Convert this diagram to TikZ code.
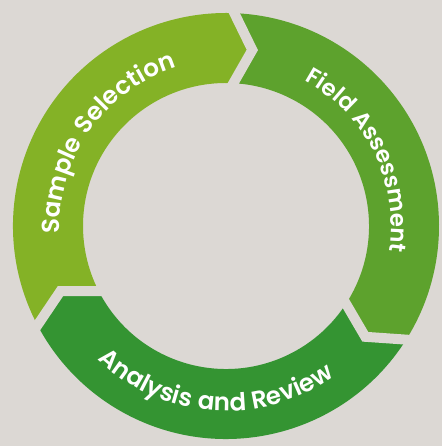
\documentclass[tikz,border=0pt]{standalone}
\usepackage{fontspec}
\usetikzlibrary{decorations.text}
\newfontfamily\ringfont{Poppins SemiBold}[LetterSpace=4]
\definecolor{bggrey}{RGB}{220,216,212}
\definecolor{samplegreen}{RGB}{132,178,38}
\definecolor{fieldgreen}{RGB}{93,162,45}
\definecolor{reviewgreen}{RGB}{52,148,50}

\begin{document}
\begin{tikzpicture}[x=0.02cm,y=0.02cm,
  gapline/.style={draw=bggrey,line width=0.2cm,line join=miter},
  ringtext/.style 2 args={decorate,decoration={text along path,text align=center,text color=white,
    text={|\ringfont\fontsize{#1}{#1}\selectfont|#2}}}]
\useasboundingbox (0,0) rectangle (442,446);
\fill[bggrey] (0,0) rectangle (442,446);
\begin{scope}[shift={(226,220)}]
\fill[samplegreen] (209:213) arc[start angle=209,end angle=89,radius=213] -- (81.5:178) -- (89:143) arc[start angle=89,end angle=209,radius=143] -- (201.5:178) -- cycle;
\fill[fieldgreen] (89:213) arc[start angle=89,end angle=-31,radius=213] -- (-38.5:178) -- (-31:143) arc[start angle=-31,end angle=89,radius=143] -- (81.5:178) -- cycle;
\fill[reviewgreen] (-31:213) arc[start angle=-31,end angle=-151,radius=213] -- (-158.5:178) -- (-151:143) arc[start angle=-151,end angle=-31,radius=143] -- (-38.5:178) -- cycle;
\draw[gapline] (89:222) -- (81.5:178) -- (89:134);
\draw[gapline] (-31:222) -- (-38.5:178) -- (-31:134);
\draw[gapline] (209:222) -- (201.5:178) -- (209:134);
\path[ringtext={14}{Sample Selection}] (205:166) arc[start angle=205,end angle=85,radius=166];
\path[ringtext={13}{Field Assessment}] (86.5:165) arc[start angle=86.5,end angle=-33.5,radius=165];
\path[ringtext={14}{Analysis and Review}] (206:185) arc[start angle=206,end angle=326,radius=185];
\end{scope}
\end{tikzpicture}
\end{document}
